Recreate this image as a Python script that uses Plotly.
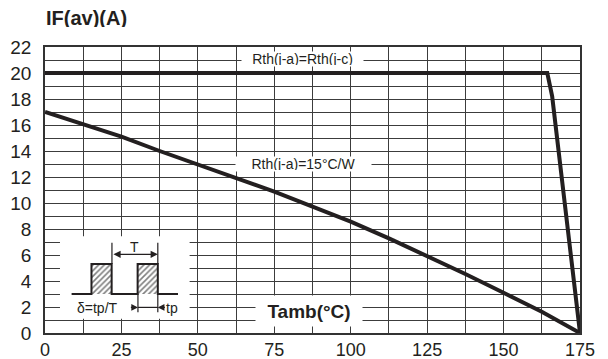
import plotly.graph_objects as go

# ---- data ----
t_curve1 = [0, 164.3, 165.9, 175]
if_curve1 = [20, 20, 18.2, 0]

t_curve2 = [0, 12.5, 25, 37.5, 50, 62.5, 75, 87.5, 100, 112.5, 125, 137.5, 150, 162.5, 175]
if_curve2 = [17.0, 16.05, 15.1, 14.0, 12.98, 11.95, 10.88, 9.72, 8.56, 7.28, 5.92, 4.54, 3.1, 1.64, 0]

x_ticks = [0, 25, 50, 75, 100, 125, 150, 175]
y_ticks = [0, 2, 4, 6, 8, 10, 12, 14, 16, 18, 20, 22]

# inset pulse diagram (in axis units)
pulse_x = [8.7, 15.2, 15.2, 21.8, 21.8, 30.3, 30.3, 36.9, 36.9, 43.5]
pulse_y = [3.0, 3.0, 5.3, 5.3, 3.0, 3.0, 5.3, 5.3, 3.0, 3.0]
hatch1_x = [15.2, 21.8, 21.8, 15.2, 15.2]
hatch2_x = [30.3, 36.9, 36.9, 30.3, 30.3]
hatch_y = [3.0, 3.0, 5.3, 5.3, 3.0]
inset_box = dict(x0=4.9, x1=47.3, y0=1.1, y1=7.45)

FONT = "Liberation Sans, Arial, sans-serif"
INK = "#231f20"
GRID = "#3c3c3c"

fig = go.Figure()

# white inset box covering grid
fig.add_shape(type="rect", xref="x", yref="y", line_width=0, fillcolor="white",
              layer="between", **inset_box)

fig.add_trace(go.Scatter(x=t_curve1, y=if_curve1, mode="lines",
                         line=dict(color=INK, width=4), hoverinfo="skip"))
fig.add_trace(go.Scatter(x=t_curve2, y=if_curve2, mode="lines",
                         line=dict(color=INK, width=4), hoverinfo="skip"))

# hatched pulses
for hx in (hatch1_x, hatch2_x):
    fig.add_trace(go.Scatter(x=hx, y=hatch_y, mode="lines", fill="toself",
                             fillcolor="white", line=dict(width=0, color=INK),
                             fillpattern=dict(shape="/", fgcolor="#000000", bgcolor="white",
                                              size=4, solidity=0.4),
                             hoverinfo="skip"))
fig.add_trace(go.Scatter(x=pulse_x, y=pulse_y, mode="lines",
                         line=dict(color=INK, width=2), hoverinfo="skip"))
# T marker verticals
fig.add_trace(go.Scatter(x=[21.9, 21.9, None, 36.9, 36.9], y=[5.3, 6.95, None, 5.3, 6.95],
                         mode="lines", line=dict(color=INK, width=1.2), hoverinfo="skip"))
# tp marker verticals + horizontal
fig.add_trace(go.Scatter(x=[30.4, 30.4, None, 36.9, 36.9, None, 30.4, 36.9],
                         y=[3.0, 1.6, None, 3.0, 1.6, None, 1.97, 1.97],
                         mode="lines", line=dict(color=INK, width=1.2), hoverinfo="skip"))

# arrows
fig.add_annotation(x=36.9, y=6.05, ax=21.9, ay=6.05, xref="x", yref="y", axref="x", ayref="y",
                   text="", showarrow=True, arrowhead=2, arrowside="end+start",
                   arrowsize=1.2, arrowwidth=1.2, arrowcolor=INK, standoff=0, startstandoff=0)
fig.add_annotation(x=30.4, y=1.97, ax=27.6, ay=1.97, xref="x", yref="y", axref="x", ayref="y",
                   text="", showarrow=True, arrowhead=2, arrowsize=1.1, arrowwidth=1.2,
                   arrowcolor=INK, standoff=0)
fig.add_annotation(x=36.9, y=1.97, ax=39.7, ay=1.97, xref="x", yref="y", axref="x", ayref="y",
                   text="", showarrow=True, arrowhead=2, arrowsize=1.1, arrowwidth=1.2,
                   arrowcolor=INK, standoff=0)

# texts
fig.add_annotation(x=29.4, y=6.6, text="T", showarrow=False,
                   font=dict(family=FONT, size=14, color=INK))
fig.add_annotation(x=17.3, y=1.92, text="δ=tp/T", showarrow=False,
                   font=dict(family=FONT, size=14, color=INK))
fig.add_annotation(x=41.6, y=1.92, text="tp", showarrow=False,
                   font=dict(family=FONT, size=14, color=INK))
fig.add_annotation(x=84.3, y=21.05, text="Rth(j-a)=Rth(j-c)", showarrow=False,
                   bgcolor="white", width=119, height=12,
                   font=dict(family=FONT, size=14, color=INK))
fig.add_annotation(x=84.5, y=13.0, text="Rth(j-a)=15°C/W", showarrow=False,
                   bgcolor="white", width=133, height=12,
                   font=dict(family=FONT, size=14, color=INK))
fig.add_annotation(x=86.5, y=1.7, text="<b>Tamb(°C)</b>", showarrow=False,
                   bgcolor="white", width=104, height=28,
                   font=dict(family=FONT, size=19, color=INK))
fig.add_annotation(xref="paper", yref="paper", x=0, y=1.101, xanchor="left", yanchor="middle",
                   text="<b>IF(av)(A)</b>", showarrow=False, height=18, borderpad=0,
                   font=dict(family=FONT, size=20, color=INK))

# the page body has an 8px default margin, so the figure is sized to fit inside the window
fig.update_layout(
    width=600, height=351,
    margin=dict(l=37, r=28, t=39, b=26, autoexpand=False),
    paper_bgcolor="white", plot_bgcolor="white",
    showlegend=False,
    xaxis=dict(range=[0, 175], tickvals=x_ticks, ticktext=[str(v) for v in x_ticks],
               showgrid=True, gridcolor=GRID, gridwidth=1, automargin=False,
               minor=dict(dtick=12.5, tick0=0, showgrid=True, gridcolor=GRID, gridwidth=1),
               showline=True, linecolor="#333", linewidth=1.5, mirror=True,
               zeroline=False, ticks="", ticklabelstandoff=0,
               tickfont=dict(family=FONT, size=18, color=INK)),
    yaxis=dict(range=[0, 22], tickvals=y_ticks, ticktext=[str(v) for v in y_ticks],
               showgrid=True, gridcolor=GRID, gridwidth=1, automargin=False,
               minor=dict(dtick=1, tick0=0, showgrid=True, gridcolor=GRID, gridwidth=1),
               showline=True, linecolor="#333", linewidth=1.5, mirror=True,
               zeroline=False, ticks="", ticklabelstandoff=8,
               tickfont=dict(family=FONT, size=19, color=INK)),
)

fig.write_html("out.html")
